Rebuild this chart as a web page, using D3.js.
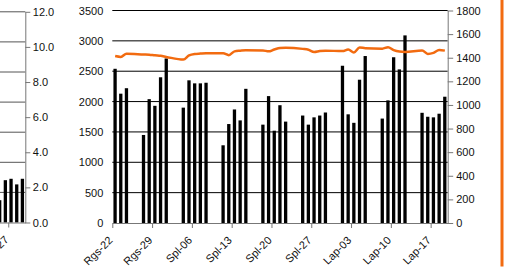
<!DOCTYPE html>
<html>
<head>
<meta charset="utf-8">
<script src="https://cdn.jsdelivr.net/npm/d3@7"></script>
<style>
  body { margin: 0; background: #fff; }
  text { font-family: "Liberation Sans", Arial, sans-serif; font-size: 11px; fill: #111; }
</style>
</head>
<body>
<div id="chart"></div>
<script>
/* D3 bar + line chart, two y axes */

const width = 508, height = 275;

// main chart: trading days
const dates = [
  "2010-09-22","2010-09-23","2010-09-24",
  "2010-09-27","2010-09-28","2010-09-29","2010-09-30","2010-10-01",
  "2010-10-04","2010-10-05","2010-10-06","2010-10-07","2010-10-08",
  "2010-10-11","2010-10-12","2010-10-13","2010-10-14","2010-10-15",
  "2010-10-18","2010-10-19","2010-10-20","2010-10-21","2010-10-22",
  "2010-10-25","2010-10-26","2010-10-27","2010-10-28","2010-10-29",
  "2010-11-01","2010-11-02","2010-11-03","2010-11-04","2010-11-05",
  "2010-11-08","2010-11-09","2010-11-10","2010-11-11","2010-11-12",
  "2010-11-15","2010-11-16","2010-11-17","2010-11-18","2010-11-19"
];
// bars, left axis
const volume = [
  2540, 2130, 2220,
  1450, 2040, 1930, 2400, 2710,
  1900, 2350, 2300, 2300, 2310,
  1280, 1630, 1870, 1690, 2210,
  1620, 2090, 1520, 1940, 1670,
  1770, 1620, 1740, 1770, 1820,
  2590, 1790, 1650, 2360, 2750,
  1720, 2020, 2730, 2530, 3090,
  1815, 1750, 1740, 1800, 2080
];
// orange line, right axis
const index = [
  1414, 1407, 1434,
  1428, 1426, 1420, 1416, 1407,
  1384, 1420, 1432, 1435, 1437,
  1437, 1422, 1454, 1460, 1464,
  1462, 1454, 1470, 1483, 1485,
  1475, 1468, 1448, 1456, 1460,
  1456, 1470, 1445, 1487, 1481,
  1477, 1489, 1464, 1452, 1449,
  1462, 1432, 1441, 1465, 1460
];
const tickDates = ["2010-09-22","2010-09-29","2010-10-06","2010-10-13","2010-10-20",
                   "2010-10-27","2010-11-03","2010-11-10","2010-11-17"];
const tickLabels = ["Rgs-22","Rgs-29","Spl-06","Spl-13","Spl-20","Spl-27","Lap-03","Lap-10","Lap-17"];
const leftTicks = [0, 500, 1000, 1500, 2000, 2500, 3000, 3500];
const rightTicks = [0, 200, 400, 600, 800, 1000, 1200, 1400, 1600, 1800];

// partial chart cut off at the left edge
const prevDates = ["2010-10-25","2010-10-26","2010-10-27","2010-10-28","2010-10-29"];
const prevValues = [1.27, 2.41, 2.49, 2.17, 2.49];
const prevTickDates = ["2010-10-27"];
const prevTickLabels = ["Spl-27"];
const prevTicks = [0, 2, 4, 6, 8, 10, 12];
const prevGrid = [0, 500, 1000, 1500, 2000, 2500, 3000, 3500];

const orange = "#f26b10";
const parse = d3.timeParse("%Y-%m-%d");

const svg = d3.select("#chart")
  .append("svg")
  .attr("width", width)
  .attr("height", height);

// rotated date labels, drawn by hand so the angle is exact
function dateLabels(scale, ticks, labels, yAxis) {
  svg.append("g")
    .selectAll("text")
    .data(ticks)
    .join("text")
    .attr("text-anchor", "end")
    .attr("transform", d => `translate(${scale(parse(d)) + 1},${yAxis + 18}) rotate(-45)`)
    .text((d, i) => labels[i]);
}

// ---------- partial chart on the left ----------
let px = d3.scaleTime()
  .domain([parse("2010-10-25"), parse("2010-10-30")])
  .range([-3.1, 25.3]);
let py = d3.scaleLinear().domain([0, 12]).range([222.5, 11.8]);
let pg = d3.scaleLinear().domain([0, 3500]).range([222.5, 11.8]);

svg.append("g")
  .selectAll("line")
  .data(prevGrid.slice(1))
  .join("line")
  .attr("x1", 0).attr("x2", 25.3)
  .attr("y1", d => pg(d)).attr("y2", d => pg(d))
  .attr("stroke", "#555");

let pday = px(parse("2010-10-26")) - px(parse("2010-10-25"));
svg.append("g")
  .selectAll("rect")
  .data(prevDates)
  .join("rect")
  .attr("x", (d) => px(parse(d)) + pday * 0.2)
  .attr("width", pday * 0.58)
  .attr("y", (d, i) => py(prevValues[i]))
  .attr("height", (d, i) => py(0) - py(prevValues[i]))
  .attr("fill", "#000");

svg.append("g")
  .attr("class", "axis")
  .attr("transform", "translate(25.3,0)")
  .call(d3.axisRight(py).tickValues(prevTicks).tickFormat(d3.format(".1f")).tickSize(5).tickPadding(2.5).tickSizeOuter(0));

svg.append("g")
  .attr("class", "axis")
  .attr("transform", "translate(0,222.5)")
  .call(d3.axisBottom(px).tickValues(prevTickDates.map(parse)).tickFormat("").tickSize(5).tickSizeOuter(0));

dateLabels(px, prevTickDates, prevTickLabels, 222.5);

// ---------- main chart ----------
let x = d3.scaleTime()
  .domain([parse("2010-09-22"), parse("2010-11-20")])
  .range([112.3, 447.7]);
let y = d3.scaleLinear().domain([0, 3500]).range([223, 10.5]);
let y2 = d3.scaleLinear().domain([0, 1800]).range([223, 10.5]);

// gridlines
svg.append("g")
  .selectAll("line")
  .data(leftTicks.slice(1))
  .join("line")
  .attr("x1", 112.3).attr("x2", 447.7)
  .attr("y1", d => y(d)).attr("y2", d => y(d))
  .attr("stroke", "#000");

let day = x(parse("2010-09-23")) - x(parse("2010-09-22"));
svg.append("g")
  .selectAll("rect")
  .data(dates)
  .join("rect")
  .attr("x", d => x(parse(d)) + day * 0.2)
  .attr("width", day * 0.58)
  .attr("y", (d, i) => y(volume[i]))
  .attr("height", (d, i) => y(0) - y(volume[i]))
  .attr("fill", "#000");

let line = d3.line()
  .x((d, i) => x(parse(dates[i])) + day / 2)
  .y(d => y2(d))
  .curve(d3.curveMonotoneX);

svg.append("path")
  .datum(index)
  .attr("d", line)
  .attr("fill", "none")
  .attr("stroke", orange)
  .attr("stroke-width", 2.5);

// left axis (labels only)
svg.append("g")
  .attr("class", "axis noline")
  .attr("transform", "translate(112.3,0)")
  .call(d3.axisLeft(y).tickValues(leftTicks).tickFormat(d3.format("d")).tickSize(0).tickPadding(9));

// right axis
svg.append("g")
  .attr("class", "axis")
  .attr("transform", "translate(447.7,0)")
  .call(d3.axisRight(y2).tickValues(rightTicks).tickFormat(d3.format("d")).tickSize(5.5).tickPadding(3).tickSizeOuter(0));

// x axis
svg.append("g")
  .attr("class", "axis")
  .attr("transform", "translate(0,223)")
  .call(d3.axisBottom(x).tickValues(tickDates.map(parse)).tickFormat("").tickSize(5).tickSizeOuter(0));

dateLabels(x, tickDates, tickLabels, 223);

// axis styling
svg.selectAll(".axis text").attr("font-size", 11).attr("font-family", null);
svg.selectAll(".axis path.domain").attr("stroke", "#777");
svg.selectAll(".axis .tick line").attr("stroke", "#777");
svg.selectAll(".noline path.domain").remove();

// orange rule at the right edge
svg.append("rect")
  .attr("x", 500.5)
  .attr("y", 0)
  .attr("width", 3)
  .attr("height", 266.5)
  .attr("fill", orange);
</script>
</body>
</html>
